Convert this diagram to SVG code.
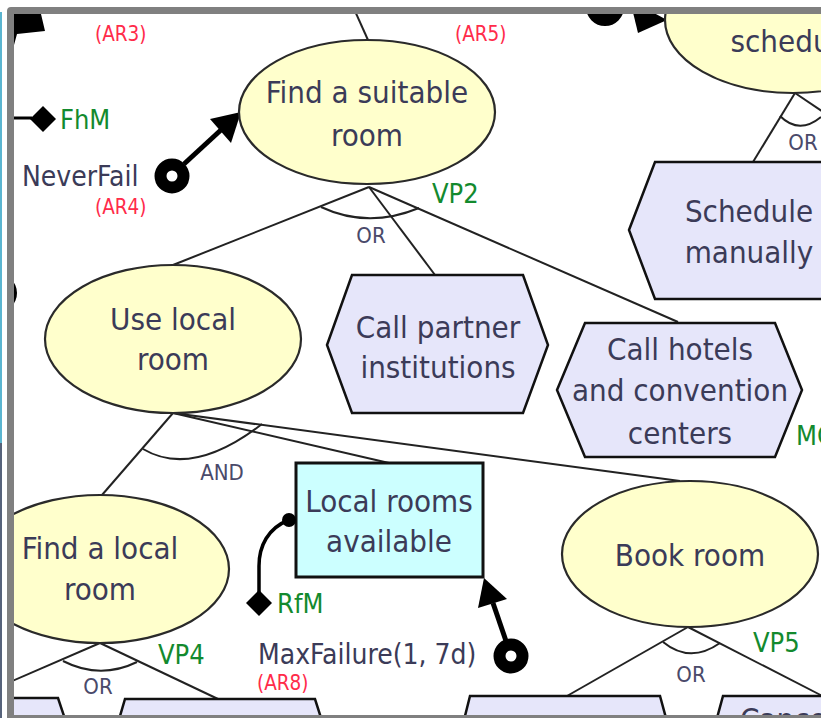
<svg xmlns="http://www.w3.org/2000/svg" width="821" height="718" viewBox="0 0 821 718">
  <style>
    .goal { fill: #ffffcc; stroke: #2a2a2a; stroke-width: 2.2; }
    .task { fill: #e6e6fa; stroke: #111; stroke-width: 2.5; stroke-linejoin: miter; }
    .res { fill: #ccffff; stroke: #111; stroke-width: 3; }
    .lbl { font-family: "DejaVu Sans Condensed", "DejaVu Sans", sans-serif; font-size: 31px; fill: #3b3b58; text-anchor: middle; }
    .ann { font-family: "DejaVu Sans Condensed", "DejaVu Sans", sans-serif; font-size: 28px; fill: #3b3b58; }
    .ar { font-family: "DejaVu Sans Condensed", "DejaVu Sans", sans-serif; font-size: 20.5px; fill: #ff2b4a; }
    .vp { font-family: "DejaVu Sans Condensed", "DejaVu Sans", sans-serif; font-size: 27px; fill: #138a2e; }
    .dec { font-family: "DejaVu Sans Condensed", "DejaVu Sans", sans-serif; font-size: 22px; fill: #4a4a6a; }
    .link { fill: none; stroke: #222; stroke-width: 2; }
    .bold { fill: none; stroke: #000; stroke-width: 5; }
    .ring { fill: none; stroke: #000; stroke-width: 12; }
    .frame { fill: #808080; }
  </style>
  <defs>
    <clipPath id="view">
      <rect x="14" y="14" width="807" height="701"/>
    </clipPath>
  </defs>

  <rect x="0" y="0" width="821" height="718" fill="#ffffff"/>

  <g clip-path="url(#view)">
    <!-- decomposition links -->
    <g id="connectors">
      <line class="link" x1="350" y1="0" x2="368" y2="40"/>
      <line class="link" x1="369" y1="187" x2="173" y2="265"/>
      <line class="link" x1="369" y1="187" x2="435" y2="275"/>
      <line class="link" x1="369" y1="187" x2="678" y2="322"/>
      <path class="link" d="M321 207 Q368 229 419 208"/>

      <line class="link" x1="795" y1="93" x2="753" y2="162"/>
      <line class="link" x1="795" y1="93" x2="850" y2="130"/>
      <path class="link" d="M780 116 Q799 135 821 117"/>

      <line class="link" x1="173" y1="413" x2="102" y2="495"/>
      <line class="link" x1="173" y1="413" x2="389" y2="463"/>
      <line class="link" x1="173" y1="413" x2="680" y2="481"/>
      <path class="link" d="M143 449 Q192 478 262 424"/>

      <line class="link" x1="100" y1="643" x2="-20" y2="695"/>
      <line class="link" x1="100" y1="643" x2="218" y2="699"/>
      <path class="link" d="M63 661 Q100 680 137 662"/>

      <line class="link" x1="688" y1="627" x2="567" y2="696"/>
      <line class="link" x1="688" y1="627" x2="840" y2="705"/>
      <path class="link" d="M663 642 Q690 664 720 643"/>

      <!-- contribution / annotation links -->
      <line class="bold" x1="184" y1="164" x2="222" y2="129"/>
      <polygon points="241,112 210,119 231,143" fill="#000"/>
      <line class="bold" x1="506" y1="641" x2="493" y2="603"/>
      <polygon points="484,578 507,599 478,608" fill="#000"/>
      <polygon points="630,0 667,20 638,33" fill="#000"/>
      <path d="M289 520 C268 528 259 546 259 566 L259 592" fill="none" stroke="#000" stroke-width="3.5"/>
      <line x1="14" y1="118" x2="32" y2="118" stroke="#000" stroke-width="3"/>
    </g>

    <!-- markers on the edges -->
    <g id="edge-marks">
      <polygon points="14,14 41,14 45,31 17,34 14,45" fill="#000"/>
      <circle cx="-2" cy="293" r="19" fill="#000"/>
      <circle class="ring" cx="605" cy="7" r="13"/>
    </g>

    <g id="schedule">
      <ellipse class="goal" cx="793" cy="20" rx="128" ry="73"/>
      <text class="lbl" x="793" y="52">schedule</text>
    </g>

    <g id="find-suitable-room">
      <ellipse class="goal" cx="367" cy="112" rx="128" ry="72"/>
      <text class="lbl" x="367" y="103">Find a suitable</text>
      <text class="lbl" x="367" y="146">room</text>
    </g>

    <g id="schedule-manually">
      <polygon class="task" points="629,230 655,162 880,162 905,230 880,299 655,299"/>
      <text class="lbl" x="749" y="222">Schedule</text>
      <text class="lbl" x="749" y="263">manually</text>
    </g>

    <g id="use-local-room">
      <ellipse class="goal" cx="173" cy="339" rx="128" ry="74"/>
      <text class="lbl" x="173" y="330">Use local</text>
      <text class="lbl" x="173" y="370">room</text>
    </g>

    <g id="call-partner">
      <polygon class="task" points="327,345 352,275 523,275 548,345 523,413 352,413"/>
      <text class="lbl" x="438" y="338">Call partner</text>
      <text class="lbl" x="438" y="378">institutions</text>
    </g>

    <g id="call-hotels">
      <polygon class="task" points="557,390 585,323 775,323 802,390 775,457 585,457"/>
      <text class="lbl" x="680" y="360">Call hotels</text>
      <text class="lbl" x="680" y="401">and convention</text>
      <text class="lbl" x="680" y="444">centers</text>
    </g>

    <g id="local-rooms-available">
      <rect class="res" x="296" y="463" width="187" height="114"/>
      <text class="lbl" x="389" y="512">Local rooms</text>
      <text class="lbl" x="389" y="552">available</text>
    </g>

    <g id="find-local-room">
      <ellipse class="goal" cx="100" cy="569" rx="129" ry="74"/>
      <text class="lbl" x="100" y="559">Find a local</text>
      <text class="lbl" x="100" y="600">room</text>
    </g>

    <g id="book-room">
      <ellipse class="goal" cx="690" cy="554" rx="128" ry="73"/>
      <text class="lbl" x="690" y="566">Book room</text>
    </g>

    <g id="bottom-tasks">
      <polygon class="task" points="-60,698 58,698 72,740 -60,740"/>
      <polygon class="task" points="113,740 125,699 315,699 328,740"/>
      <polygon class="task" points="459,740 470,696 660,696 672,740"/>
      <polygon class="task" points="711,740 723,696 900,696 910,740"/>
      <text class="lbl" x="740" y="730" style="text-anchor:start">Cancel</text>
    </g>

    <!-- annotation markers -->
    <g id="neverfail">
      <circle class="ring" cx="172" cy="176" r="11.5"/>
      <text class="ann" x="22" y="186">NeverFail</text>
      <text class="ar" x="95" y="214">(AR4)</text>
    </g>
    <g id="maxfailure">
      <circle class="ring" cx="511" cy="656" r="11.5"/>
      <text class="ann" x="258" y="664">MaxFailure(1, 7d)</text>
      <text class="ar" x="257" y="690">(AR8)</text>
    </g>
    <g id="fhm">
      <polygon points="43,106 56,119 43,132 30,119" fill="#000"/>
      <text class="vp" x="60" y="129">FhM</text>
    </g>
    <g id="rfm">
      <circle cx="289" cy="520" r="7" fill="#000"/>
      <polygon points="259,590 272,603 259,616 246,603" fill="#000"/>
      <text class="vp" x="277" y="613">RfM</text>
    </g>

    <g id="tags">
      <text class="ar" x="95" y="41">(AR3)</text>
      <text class="ar" x="455" y="41">(AR5)</text>
      <text class="vp" x="432" y="203">VP2</text>
      <text class="vp" x="158" y="664">VP4</text>
      <text class="vp" x="753" y="652">VP5</text>
      <text class="vp" x="796" y="445">MC</text>
      <text class="dec" x="371" y="243" text-anchor="middle">OR</text>
      <text class="dec" x="803" y="150" text-anchor="middle">OR</text>
      <text class="dec" x="222" y="480" text-anchor="middle">AND</text>
      <text class="dec" x="98" y="694" text-anchor="middle">OR</text>
      <text class="dec" x="691" y="682" text-anchor="middle">OR</text>
    </g>
  </g>

  <!-- window frame -->
  <g id="frame">
    <path class="frame" d="M7 718 V11 Q7 7 11 7 H821 V14 H14 V718 Z"/>
    <rect class="frame" x="14" y="715" width="807" height="3"/>
    <rect x="0" y="12" width="2" height="431" fill="#5bb5d0"/>
    <rect x="0" y="443" width="2" height="275" fill="#56627a"/>
  </g>
</svg>
